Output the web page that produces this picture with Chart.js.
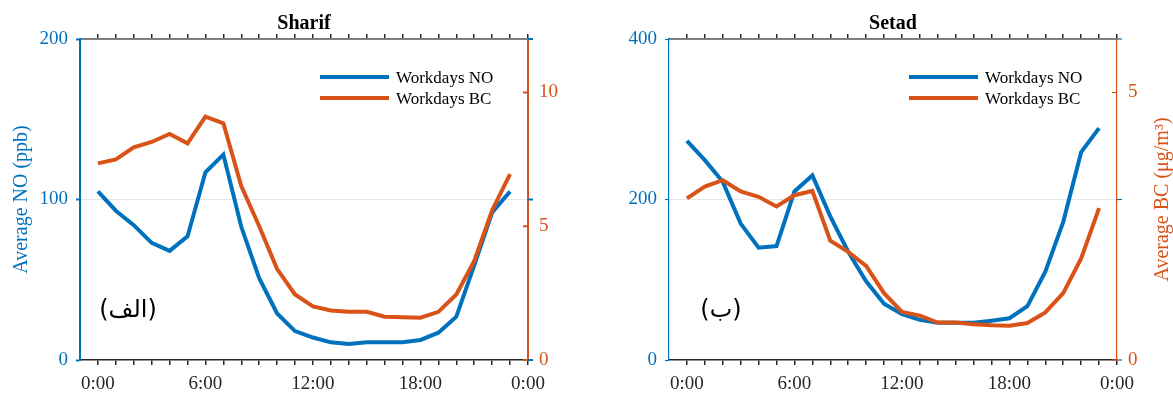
<!DOCTYPE html>
<html>
<head>
<meta charset="utf-8">
<title>Sharif / Setad - NO and BC</title>
<script src="https://cdn.jsdelivr.net/npm/chart.js@4.4.1/dist/chart.umd.min.js"></script>
<style>
  html, body { margin: 0; padding: 0; background: #fff; }
  body { width: 1173px; height: 394px; position: relative; overflow: hidden; }
  .panel { position: absolute; top: 0; }
</style>
</head>
<body>
<canvas id="sharifChart" class="panel" width="586" height="394" style="left:0"></canvas>
<canvas id="setadChart" class="panel" width="587" height="394" style="left:586px"></canvas>
<script>
const NO_COLOR = '#0072BD';
const BC_COLOR = '#D95319';
const SERIF = '"Liberation Serif", "Times New Roman", serif';

// hour of day
const hours = [0, 1, 2, 3, 4, 5, 6, 7, 8, 9, 10, 11, 12, 13, 14, 15, 16, 17, 18, 19, 20, 21, 22, 23];
const hourTicks = [0, 1, 2, 3, 4, 5, 6, 7, 8, 9, 10, 11, 12, 13, 14, 15, 16, 17, 18, 19, 20, 21, 22, 23, 24];
const xTickLabels = ['0:00', '6:00', '12:00', '18:00', '0:00'];

// Sharif
const sharifNo = [105, 93, 84, 73, 68, 77, 117, 128, 83, 51, 29, 18, 14, 11, 10, 11, 11, 11, 12.5, 17, 27, 59, 92, 105];
const sharifBc = [7.35, 7.5, 7.95, 8.15, 8.45, 8.1, 9.1, 8.85, 6.5, 5.0, 3.4, 2.45, 2.0, 1.85, 1.8, 1.8, 1.62, 1.6, 1.58, 1.8, 2.45, 3.7, 5.6, 6.95];
const sharifNoTicks = [0, 100, 200];
const sharifBcTicks = [0, 5, 10];

// Setad
const setadNo = [273, 249, 222, 170, 140, 142, 210, 230, 179, 135, 98, 70, 57, 50, 46.5, 46.5, 46.5, 49, 52, 67, 110, 172, 259, 289];
const setadBc = [3.02, 3.24, 3.36, 3.15, 3.05, 2.87, 3.08, 3.16, 2.23, 2.02, 1.76, 1.25, 0.9, 0.83, 0.7, 0.7, 0.67, 0.65, 0.64, 0.69, 0.89, 1.25, 1.9, 2.84];
const setadNoTicks = [0, 200, 400];
const setadBcTicks = [0, 5];

function byId(id) {
  return document.getElementById(id);
}

function toPoints(values) {
  return values.map((v, i) => ({ x: hours[i], y: v }));
}

function useTicks(values) {
  return (scale) => {
    scale.ticks = values.map((v) => ({ value: v }));
  };
}

function line(ctx, x0, y0, x1, y1) {
  ctx.beginPath();
  ctx.moveTo(x0, y0);
  ctx.lineTo(x1, y1);
  ctx.stroke();
}

// legend, panel tag, right title and the extra tick marks on the right axis
const panelExtras = {
  id: 'panelExtras',
  afterDraw(chart, args, opts) {
    const { ctx, chartArea, scales } = chart;
    ctx.save();

    ctx.lineWidth = opts.axisWidth;
    ctx.strokeStyle = NO_COLOR;
    scales.y.ticks.forEach((t) => {
      const py = scales.y.getPixelForValue(t.value);
      line(ctx, chartArea.right, py, chartArea.right + 5, py);
    });
    ctx.strokeStyle = BC_COLOR;
    scales.y1.ticks.forEach((t) => {
      const py = scales.y1.getPixelForValue(t.value);
      line(ctx, chartArea.right - 5, py, chartArea.right, py);
    });

    ctx.font = `17px ${SERIF}`;
    ctx.textBaseline = 'alphabetic';
    ctx.textAlign = 'left';
    chart.data.datasets.forEach((ds, i) => {
      const y = chartArea.top + 38 + i * 21;
      const x0 = chartArea.right - 208;
      ctx.strokeStyle = ds.borderColor;
      ctx.lineWidth = 4;
      line(ctx, x0, y, x0 + 69, y);
      ctx.fillStyle = '#000';
      ctx.fillText(ds.label, x0 + 76, y + 6);
    });

    ctx.font = '24px "DejaVu Sans"';
    ctx.textAlign = 'center';
    ctx.textBaseline = 'middle';
    ctx.fillStyle = '#000';
    ctx.fillText(opts.tag, chartArea.left + opts.tagX, chartArea.top + opts.tagY);

    if (opts.rightTitle) {
      ctx.translate(chart.width - 10, (chartArea.top + chartArea.bottom) / 2);
      ctx.rotate(-Math.PI / 2);
      ctx.font = `20px ${SERIF}`;
      ctx.fillStyle = BC_COLOR;
      ctx.fillText(opts.rightTitle, 0, 0);
    }

    ctx.restore();
  },
};

function buildPanel(canvasId, cfg) {
  const canvas = byId(canvasId);
  if (!canvas || typeof Chart === 'undefined') return null;

  const xCommon = {
    type: 'linear',
    min: -1,
    max: 24,
    afterBuildTicks: useTicks(hourTicks),
  };

  return new Chart(canvas, {
    type: 'line',
    data: {
      datasets: [
        {
          label: 'Workdays NO',
          data: toPoints(cfg.no),
          yAxisID: 'y',
          borderColor: NO_COLOR,
          backgroundColor: NO_COLOR,
          borderWidth: 4,
          pointRadius: 0,
          tension: 0,
          order: 1,
        },
        {
          label: 'Workdays BC',
          data: toPoints(cfg.bc),
          yAxisID: 'y1',
          borderColor: BC_COLOR,
          backgroundColor: BC_COLOR,
          borderWidth: 4,
          pointRadius: 0,
          tension: 0,
          order: 0,
        },
      ],
    },
    options: {
      responsive: false,
      devicePixelRatio: 1,
      animation: false,
      events: [],
      layout: { padding: 0 },
      plugins: {
        legend: { display: false },
        tooltip: { enabled: false },
        title: {
          display: true,
          text: cfg.title,
          fullSize: false,
          color: '#000',
          font: { family: SERIF, size: 20, weight: 'bold', lineHeight: 1 },
          padding: { top: 14, bottom: 0 },
        },
        panelExtras: {
          tag: cfg.tag,
          tagX: cfg.tagX,
          tagY: 272,
          axisWidth: cfg.axisWidth,
          rightTitle: cfg.rightTitle,
        },
      },
      scales: {
        x: {
          ...xCommon,
          position: 'bottom',
          afterFit: (s) => { s.height = 34; },
          border: { color: '#262626', width: 1.5 },
          grid: { drawOnChartArea: false, tickLength: 5, tickColor: '#262626', lineWidth: 1.5 },
          ticks: {
            autoSkip: false,
            maxRotation: 0,
            padding: 8,
            color: '#262626',
            font: { family: SERIF, size: 19 },
            callback: (v) => (v >= 0 && v % 6 === 0 ? xTickLabels[v / 6] : ''),
          },
        },
        xTop: {
          ...xCommon,
          position: 'top',
          afterFit: (s) => { s.height = 5; },
          border: { color: '#808080', width: 2 },
          grid: { drawOnChartArea: false, tickLength: 5, tickColor: '#262626', lineWidth: 1.5 },
          ticks: { display: false },
        },
        y: {
          position: 'left',
          min: 0,
          max: cfg.noTicks[cfg.noTicks.length - 1],
          afterBuildTicks: useTicks(cfg.noTicks),
          afterFit: (s) => { s.width = cfg.leftWidth; },
          border: { color: NO_COLOR, width: cfg.axisWidth },
          grid: {
            color: (c) => (c.index === 1 ? '#e3e6ea' : 'rgba(0,0,0,0)'),
            lineWidth: 1,
            tickLength: 4,
            tickColor: NO_COLOR,
            tickWidth: cfg.axisWidth,
          },
          ticks: { color: NO_COLOR, padding: 8, font: { family: SERIF, size: 19 } },
          title: {
            display: cfg.leftTitle !== '',
            text: cfg.leftTitle,
            color: NO_COLOR,
            font: { family: SERIF, size: 20, lineHeight: 1.2 },
            padding: { top: 10, bottom: 0 },
          },
        },
        y1: {
          position: 'right',
          min: 0,
          max: cfg.bcMax,
          afterBuildTicks: useTicks(cfg.bcTicks),
          afterFit: (s) => { s.width = cfg.rightWidth; },
          border: { color: BC_COLOR, width: cfg.axisWidth },
          grid: { drawOnChartArea: false, drawTicks: false },
          ticks: { color: BC_COLOR, padding: 11, font: { family: SERIF, size: 19 } },
        },
      },
    },
    plugins: [panelExtras],
  });
}

buildPanel('sharifChart', {
  title: 'Sharif',
  tag: '(الف)',
  tagX: 48,
  no: sharifNo,
  bc: sharifBc,
  noTicks: sharifNoTicks,
  bcTicks: sharifBcTicks,
  bcMax: 12,
  leftWidth: 80,
  rightWidth: 58,
  axisWidth: 2,
  leftTitle: 'Average NO (ppb)',
  rightTitle: '',
});

buildPanel('setadChart', {
  title: 'Setad',
  tag: '(ب)',
  tagX: 52,
  no: setadNo,
  bc: setadBc,
  noTicks: setadNoTicks,
  bcTicks: setadBcTicks,
  bcMax: 6,
  leftWidth: 83,
  rightWidth: 56,
  axisWidth: 1.2,
  leftTitle: '',
  rightTitle: 'Average BC (μg/m³)',
});
</script>
</body>
</html>
